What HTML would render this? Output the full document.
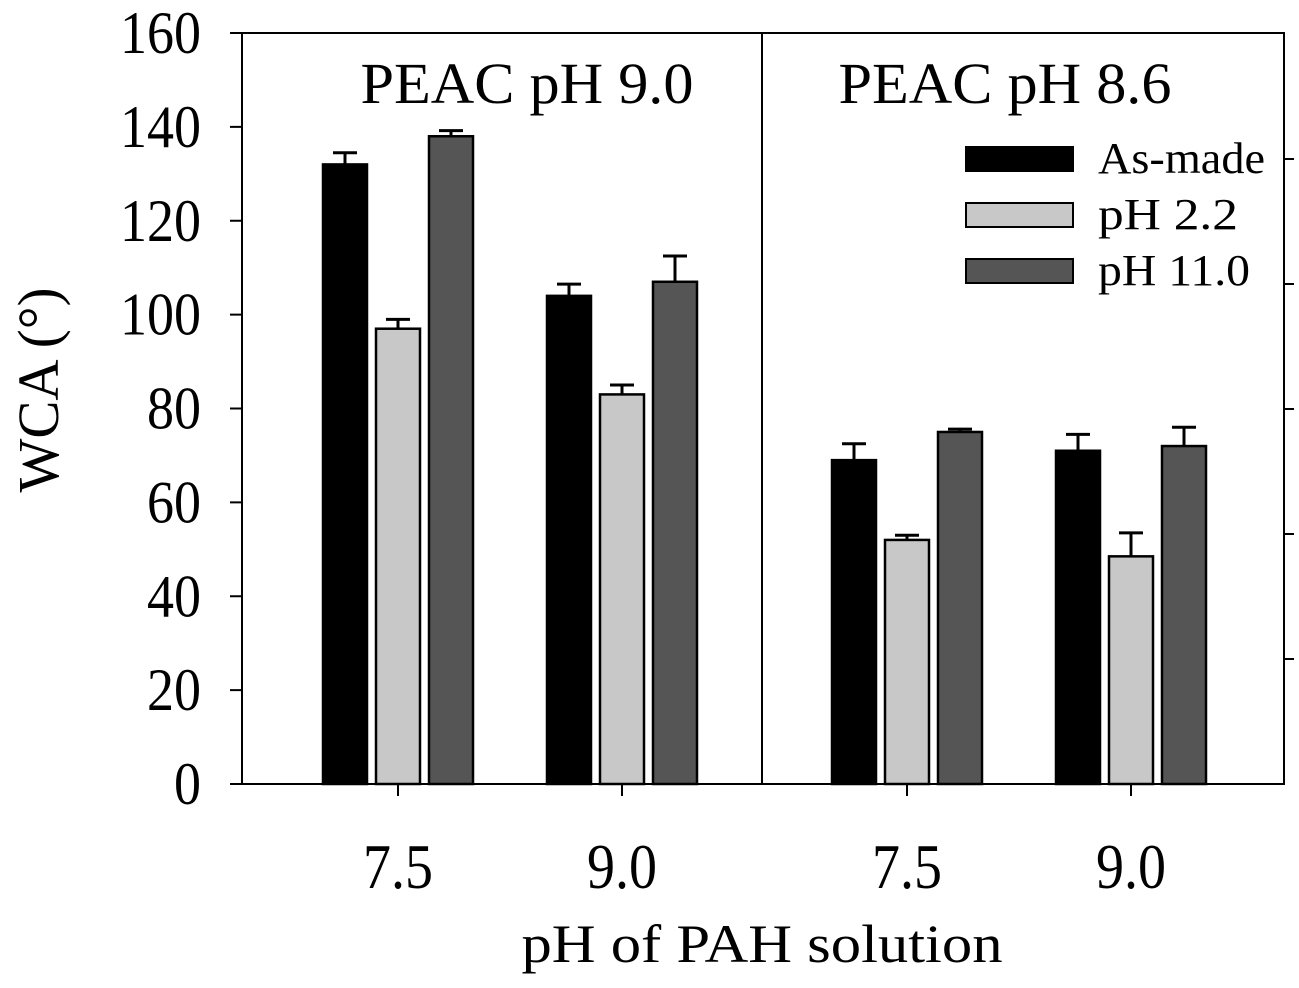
<!DOCTYPE html>
<html><head><meta charset="utf-8"><style>
body{margin:0;background:#fff;}
svg text{font-family:"Liberation Serif",serif;fill:#000;}
</style></head><body>
<svg id="chart" width="1299" height="983" xmlns="http://www.w3.org/2000/svg">
<g id="plot"></g>
</svg>
<script>
const groups=["7.5","9.0","7.5","9.0"];
const seriesNames=["As-made","pH 2.2","pH 11.0"];
const asMade=[132,104,69,71];
const asMadeErr=[2.5,2.5,3.5,3.5];
const ph22=[97,83,52,48.5];
const ph22Err=[2,2,1,5];
const ph110=[138,107,75,72];
const ph110Err=[1.2,5.5,0.6,4];
const yTicks=[0,20,40,60,80,100,120,140,160];
const panelTitles=["PEAC pH 9.0","PEAC pH 8.6"];

const NS="http://www.w3.org/2000/svg";
const g=document.getElementById('plot');
const L=242,R=1284,T=33,B=784;
const y=v=>B-(v/160)*(B-T);
const centers=[398,622,907,1131];
const x=i=>centers[i];
function el(tag,a,p){const e=document.createElementNS(NS,tag);for(const k in a)e.setAttribute(k,a[k]);(p||g).appendChild(e);return e;}
let f=el('rect',{x:L,y:T,width:R-L,height:B-T,fill:'none',stroke:'#000','stroke-width':2});


let xa=el('line',{x1:231,y1:B,x2:R,y2:B,stroke:'#000','stroke-width':2});


let d=el('line',{x1:762,y1:T,x2:762,y2:B,stroke:'#000','stroke-width':2});


yTicks.forEach(v=>{
  let t=el('line',{x1:L-12,y1:y(v),x2:L,y2:y(v),stroke:'#000','stroke-width':2});
  
  
  const s=String(v);
  let lb=el('text',{x:201,y:y(v)+20,'text-anchor':'end','font-size':60,textLength:s.length*27,lengthAdjust:'spacingAndGlyphs'});
  lb.textContent=s;
  
  
});
for(let k=1;k<6;k++){
  let t=el('line',{x1:R,y1:B-k*125,x2:R+10,y2:B-k*125,stroke:'#000','stroke-width':2});
  
  
}
const series=[[asMade,asMadeErr,'#000'],[ph22,ph22Err,'#c8c8c8'],[ph110,ph110Err,'#555']];
groups.forEach((gl,i)=>{
  let t=el('line',{x1:x(i),y1:B,x2:x(i),y2:B+12,stroke:'#000','stroke-width':2});
  
  
  let lb=el('text',{x:x(i),y:888,'text-anchor':'middle','font-size':64,textLength:70,lengthAdjust:'spacingAndGlyphs'});
  lb.textContent=gl;
  
  
  series.forEach((s,j)=>{
    const cx=x(i)+(j-1)*53,w=44,v=s[0][i],e=s[1][i];
    let ln=el('line',{x1:cx,y1:y(v),x2:cx,y2:y(v+e),stroke:'#000','stroke-width':3});
    
    
    let cap=el('line',{x1:cx-12,y1:y(v+e),x2:cx+12,y2:y(v+e),stroke:'#000','stroke-width':3});
    
    
    let r=el('rect',{x:cx-w/2,y:y(v),width:w,height:B-y(v),fill:s[2],stroke:'#000','stroke-width':2.5});
    
    
  });
});
panelTitles.forEach((pt,i)=>{
  let t=el('text',{x:i?1005:527,y:103,'text-anchor':'middle','font-size':58,textLength:333,lengthAdjust:'spacingAndGlyphs'});
  t.textContent=pt;
  
  
});
const legW=[167,140,152];
seriesNames.forEach((n,j)=>{
  const yy=147+j*56;
  let r=el('rect',{x:966,y:yy,width:107,height:24,fill:series[j][2],stroke:'#000','stroke-width':2});
  
  
  let t=el('text',{x:1098,y:yy+26,'font-size':44,textLength:legW[j],lengthAdjust:'spacingAndGlyphs'});
  t.textContent=n;
  
  
});
let xt=el('text',{x:762,y:962,'text-anchor':'middle','font-size':54,textLength:481,lengthAdjust:'spacingAndGlyphs'});
xt.textContent='pH of PAH solution';


let yt=el('text',{x:0,y:0,'text-anchor':'middle','font-size':58,textLength:205,lengthAdjust:'spacingAndGlyphs',transform:'translate(58,390) rotate(-90)'});
yt.textContent='WCA (°)';


</script>
</body></html>
